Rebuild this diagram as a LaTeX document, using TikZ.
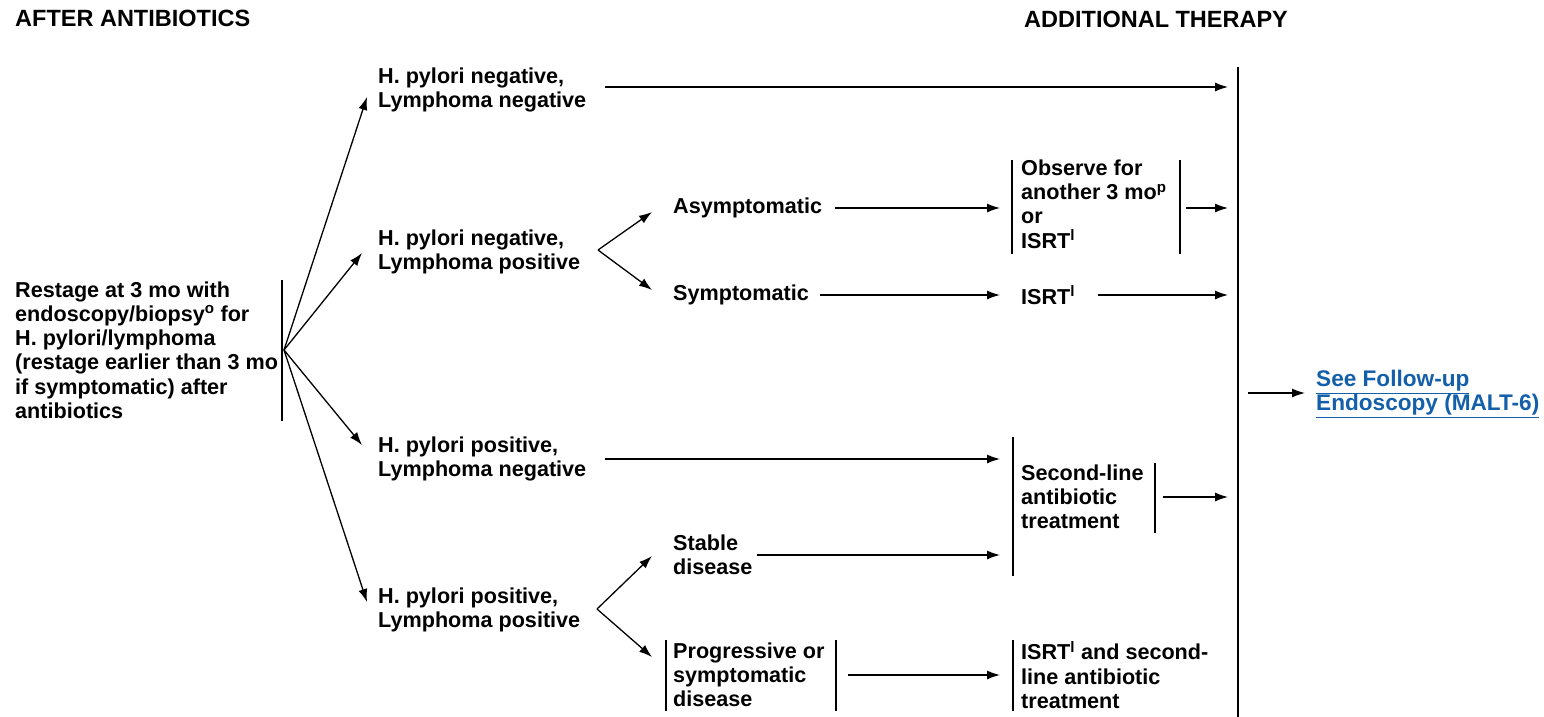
\documentclass[tikz,border=0pt]{standalone}
\usepackage{fontspec}
\setmainfont{Liberation Sans}
\usetikzlibrary{arrows.meta}
\definecolor{linkblue}{RGB}{20,95,170}
\begin{document}
\begin{tikzpicture}[x=1pt,y=-1pt,
  txt/.style={inner sep=0pt, align=left, anchor=west, font=\fontsize{21.6}{24.2}\selectfont\bfseries},
  head/.style={inner sep=0pt, anchor=west, font=\fontsize{23.5}{26}\selectfont\bfseries},
  arr/.style={-{Latex[length=13pt,width=9pt]}, line width=1.3pt},
  bar/.style={line width=1.3pt},
  link/.style={txt, text=linkblue, font=\fontsize{22.6}{23}\selectfont\bfseries},
]
\useasboundingbox (0,0) rectangle (1544,717);
% headers
\node[head] (h1) at (15,18) {AFTER ANTIBIOTICS};
\node[head] (h2) at (1024,19) {ADDITIONAL THERAPY};
% source
\node[txt] (src) at (15,350) {Restage at 3 mo with\\endoscopy/biopsy\textsuperscript{o} for\\H. pylori/lymphoma\\(restage earlier than 3 mo\\if symptomatic) after\\antibiotics};
\draw[bar] (282,280) -- (282,421);
\coordinate (fan) at (284,350);
% level 1
\node[txt] (A) at (378,90) {H. pylori negative,\\Lymphoma negative};
\node[txt] (B) at (378,252) {H. pylori negative,\\Lymphoma positive};
\node[txt] (C) at (378,459) {H. pylori positive,\\Lymphoma negative};
\node[txt] (D) at (378,610) {H. pylori positive,\\Lymphoma positive};
\draw[arr] (fan) -- (367,97);
\draw[arr] (fan) -- (362,253);
\draw[arr] (fan) -- (362,445);
\draw[arr] (fan) -- (367,602);
% big bar
\draw[bar] (1238,67) -- (1238,717);
\coordinate (bigA) at (1228,87);
\draw[arr] (605,87) -- (bigA);
% branch B
\node[txt] (asym) at (673,208) {Asymptomatic};
\node[txt] (sym) at (673,295) {Symptomatic};
\coordinate (vB) at (598,250);
\draw[arr] (vB) -- (652,212);
\draw[arr] (vB) -- (652,290);
\node[txt] (obs) at (1021,204) {Observe for\\another 3 mo\textsuperscript{p}\\or\\ISRT\textsuperscript{l}};
\draw[bar] (1012,160) -- (1012,254);
\draw[bar] (1180,160) -- (1180,254);
\draw[arr] (835,208) -- (1000,208);
\draw[arr] (1186,208) -- (1228,208);
\node[txt] (isrt1) at (1021,295) {ISRT\textsuperscript{l}};
\draw[arr] (820,295) -- (1000,295);
\draw[arr] (1098,295) -- (1228,295);
% link
\node[link] (fu) at (1316,394) {\underline{See Follow-up}\\\underline{Endoscopy (MALT-6)}};
\draw[arr] (1248,393) -- (1305,393);
% branch C
\node[txt] (sec) at (1021,497) {Second-line\\antibiotic\\treatment};
\draw[bar] (1013,437) -- (1013,576);
\draw[bar] (1155,463) -- (1155,533);
\draw[arr] (605,459) -- (1000,459);
\draw[arr] (1163,497) -- (1228,497);
% branch D
\node[txt] (stab) at (673,555) {Stable\\disease};
\node[txt] (prog) at (673,675) {Progressive or\\symptomatic\\disease};
\coordinate (vD) at (597,609);
\draw[arr] (vD) -- (652,556);
\draw[arr] (vD) -- (652,657);
\draw[bar] (666,640) -- (666,711);
\draw[bar] (836,640) -- (836,711);
\draw[arr] (757,555) -- (1000,555);
\node[txt] (isrt2) at (1021,675) {ISRT\textsuperscript{l} and second-\\line antibiotic\\treatment};
\draw[bar] (1013,640) -- (1013,711);
\draw[arr] (848,675) -- (1000,675);
\end{tikzpicture}
\end{document}
